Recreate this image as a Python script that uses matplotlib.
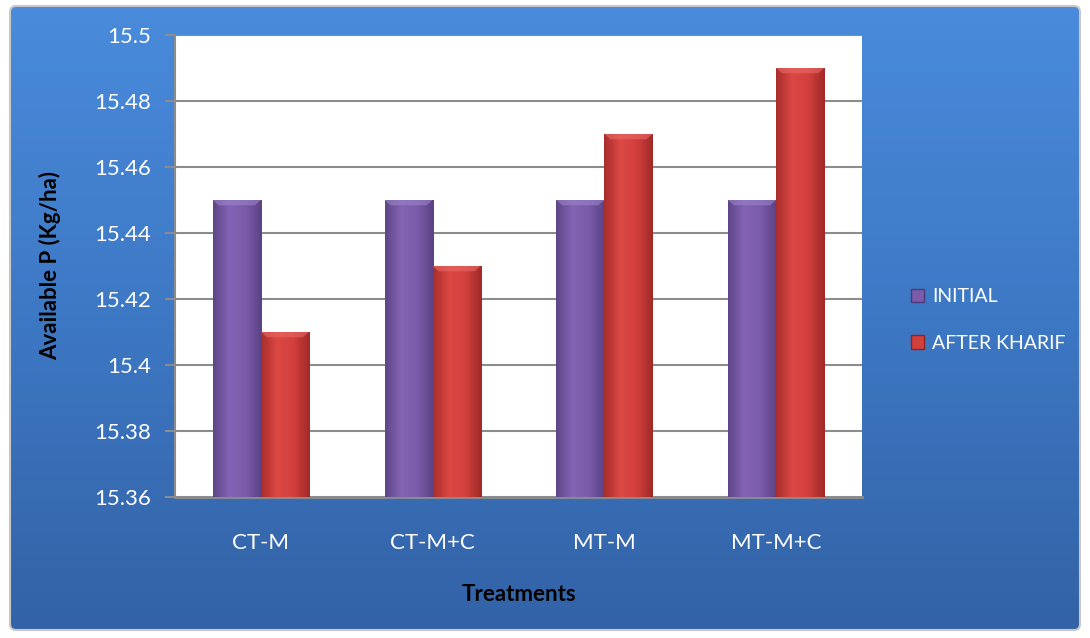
import numpy as np
import matplotlib.pyplot as plt
from matplotlib.colors import LinearSegmentedColormap
from matplotlib.patches import FancyBboxPatch, Patch

# Available P values per treatment
treatments = ["CT-M", "CT-M+C", "MT-M", "MT-M+C"]
initial = [15.45, 15.45, 15.45, 15.45]
after_kharif = [15.41, 15.43, 15.47, 15.49]
series_names = ["INITIAL", "AFTER KHARIF"]
y_ticks = [15.36, 15.38, 15.40, 15.42, 15.44, 15.46, 15.48, 15.50]
y_tick_labels = ["15.36", "15.38", "15.4", "15.42", "15.44", "15.46", "15.48", "15.5"]

plt.rcParams["font.family"] = ["Lato", "DejaVu Sans"]

fig = plt.figure(figsize=(10.9, 6.38), dpi=100)
fig.patch.set_facecolor("white")

# blue rounded panel with vertical gradient
bg = fig.add_axes([0, 0, 1, 1])
bg.set_xlim(0, 1090)
bg.set_ylim(638, 0)
bg.axis("off")
panel = FancyBboxPatch((10, 6), 1070, 624, boxstyle="round,pad=0,rounding_size=6",
                       facecolor="none", edgecolor="#c8c8c8", linewidth=1.5)
bg.add_patch(panel)
blue = LinearSegmentedColormap.from_list("panel", ["#4a8bdc", "#3d78c4", "#3362a6"])
grad = np.linspace(0, 1, 256).reshape(-1, 1)
im = bg.imshow(grad, cmap=blue, extent=[10, 1080, 630, 6], aspect="auto", zorder=0)
im.set_clip_path(panel)

ax = fig.add_axes([175 / 1090, 1 - 497 / 638, 687 / 1090, 462 / 638])
ax.set_facecolor("white")
ax.set_ylim(15.36, 15.50)
ax.set_xlim(-0.5, len(treatments) - 0.5)

x = np.arange(len(treatments))
width = 0.28

purple_cmap = LinearSegmentedColormap.from_list("p", ["#5e4688", "#8364b4", "#7a5caa", "#5a4284"])
red_cmap = LinearSegmentedColormap.from_list("r", ["#a82e2c", "#dc4844", "#d2403d", "#a02a28"])
shade = np.linspace(0, 1, 64).reshape(1, -1)


def shaded_bars(xs, vals, cmap, top_color, label):
    bars = ax.bar(xs, [v - 15.36 for v in vals], width, bottom=15.36, color="none",
                  edgecolor="none", label=label, zorder=3)
    for b in bars:
        x0, w = b.get_x(), b.get_width()
        y0, h = b.get_y(), b.get_height()
        g = ax.imshow(shade, cmap=cmap, extent=[x0, x0 + w, y0, y0 + h],
                      aspect="auto", zorder=3)
        g.set_clip_path(b)
        # soft bevel on the top edge
        bev = 0.0016
        ax.fill([x0, x0 + w, x0 + w - 0.035, x0 + 0.035],
                [y0 + h, y0 + h, y0 + h - bev, y0 + h - bev],
                color=top_color, alpha=0.6, zorder=4, linewidth=0)
    return bars


shaded_bars(x - width / 2, initial, purple_cmap, "#9c84c8", series_names[0])
shaded_bars(x + width / 2, after_kharif, red_cmap, "#e86a66", series_names[1])

ax.set_yticks(y_ticks)
ax.set_yticklabels(y_tick_labels, color="white", fontsize=16)
ax.grid(axis="y", color="#8c8c8c", linewidth=1.5, zorder=1)
ax.set_axisbelow(True)
ax.tick_params(axis="y", length=7, width=1.5, color="#8c8c8c", pad=10)
ax.set_xticks(x)
ax.set_xticklabels(treatments, color="white", fontsize=16)
ax.tick_params(axis="x", length=0, pad=26)
for side in ["top", "right"]:
    ax.spines[side].set_visible(False)
ax.spines["left"].set_color("#8c8c8c")
ax.spines["left"].set_linewidth(1.5)
ax.spines["bottom"].set_color("#8c8c8c")
ax.spines["bottom"].set_linewidth(2)

ax.set_xlabel("Treatments", fontsize=16, fontweight="bold", color="black", labelpad=22)
ax.set_ylabel("Available P (Kg/ha)", fontsize=16, fontweight="bold", color="black", labelpad=24)

handles = [Patch(facecolor="#7a5caa", edgecolor="#4e3a78"),
           Patch(facecolor="#d2403d", edgecolor="#8e2422")]
fig.legend(handles, series_names, loc="center left", bbox_to_anchor=(893 / 1090, 1 - 320 / 638),
           frameon=False, fontsize=14, labelcolor="white", handlelength=0.7, handleheight=0.7,
           handletextpad=0.4, labelspacing=1.5)

fig.savefig("out.png", dpi=100)
